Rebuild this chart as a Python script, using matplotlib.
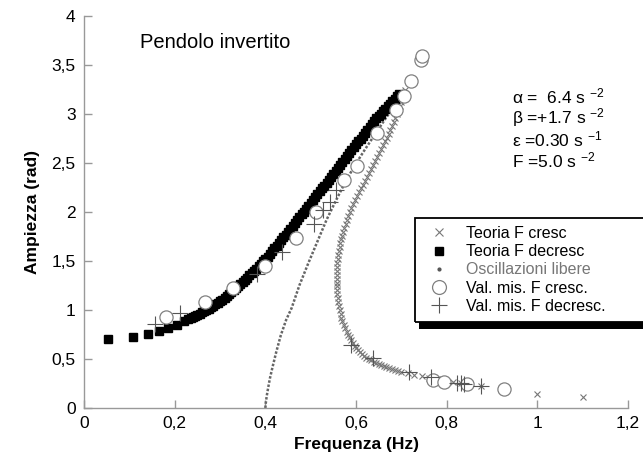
import numpy as np
import matplotlib
matplotlib.use("Agg")
import matplotlib.pyplot as plt
from matplotlib.lines import Line2D
from matplotlib.patches import Rectangle
from matplotlib.ticker import FuncFormatter, MultipleLocator

plt.rcParams['font.family'] = ['Liberation Sans', 'DejaVu Sans']
plt.rcParams['mathtext.fontset'] = 'custom'
plt.rcParams['mathtext.rm'] = 'Liberation Sans'
plt.rcParams['mathtext.it'] = 'Liberation Sans'

# Teoria F decresc (upper branch, black squares)
dec_f = [0.053, 0.108, 0.141, 0.166, 0.185, 0.205, 0.221,
         0.230, 0.235, 0.240, 0.245, 0.250, 0.255, 0.260, 0.265, 0.270, 0.275,
         0.280, 0.285, 0.290, 0.295, 0.300, 0.305, 0.310, 0.315, 0.320, 0.325,
         0.330, 0.335, 0.340, 0.345, 0.350, 0.355, 0.360, 0.365, 0.370, 0.375,
         0.380, 0.385, 0.390, 0.395, 0.400, 0.405, 0.410, 0.415, 0.420, 0.425,
         0.430, 0.435, 0.440, 0.445, 0.450, 0.455, 0.460, 0.465, 0.470, 0.475,
         0.480, 0.485, 0.490, 0.495, 0.500, 0.505, 0.510, 0.515, 0.520, 0.525,
         0.530, 0.535, 0.540, 0.545, 0.550, 0.555, 0.560, 0.565, 0.570, 0.575,
         0.580, 0.585, 0.590, 0.595, 0.600, 0.605, 0.610, 0.615, 0.620, 0.625,
         0.630, 0.635, 0.640, 0.645, 0.650, 0.655, 0.660, 0.665, 0.670, 0.675,
         0.680, 0.685, 0.690, 0.695]
dec_a = [0.70, 0.72, 0.76, 0.79, 0.82, 0.85, 0.89,
         0.91, 0.92, 0.93, 0.94, 0.95, 0.962, 0.975, 0.987, 1.00, 1.015,
         1.03, 1.045, 1.06, 1.075, 1.09, 1.105, 1.12, 1.14, 1.16, 1.18,
         1.20, 1.225, 1.25, 1.27, 1.29, 1.31, 1.33, 1.355, 1.38, 1.40,
         1.42, 1.445, 1.47, 1.495, 1.52, 1.545, 1.57, 1.60, 1.63, 1.655,
         1.68, 1.71, 1.74, 1.77, 1.80, 1.83, 1.86, 1.89, 1.92, 1.95,
         1.98, 2.005, 2.03, 2.06, 2.09, 2.12, 2.15, 2.18, 2.21, 2.24,
         2.27, 2.30, 2.33, 2.36, 2.39, 2.42, 2.45, 2.48, 2.51, 2.54,
         2.57, 2.60, 2.63, 2.66, 2.69, 2.72, 2.75, 2.78, 2.81, 2.84,
         2.87, 2.90, 2.93, 2.955, 2.98, 3.005, 3.03, 3.055, 3.08, 3.105,
         3.13, 3.155, 3.18, 3.20]

# Teoria F cresc (C-shaped curve, gray crosses)
cre_f = [0.708, 0.705, 0.702, 0.699, 0.696, 0.693, 0.690, 0.687, 0.683, 0.680,
         0.676, 0.672, 0.668, 0.664, 0.660, 0.656, 0.651, 0.647, 0.642, 0.638,
         0.633, 0.629, 0.624, 0.620, 0.615, 0.611, 0.606, 0.602, 0.598, 0.594,
         0.590, 0.586, 0.583, 0.580, 0.577, 0.574, 0.572, 0.569, 0.567, 0.565,
         0.564, 0.562, 0.561, 0.560, 0.559, 0.558, 0.558, 0.558, 0.558, 0.558,
         0.558, 0.558, 0.559, 0.560, 0.561, 0.562, 0.564, 0.566, 0.568, 0.570,
         0.573, 0.576, 0.580, 0.583, 0.587, 0.590, 0.594, 0.597, 0.601, 0.605,
         0.609, 0.613, 0.618, 0.623, 0.628, 0.633, 0.639, 0.644, 0.650, 0.655,
         0.661, 0.667, 0.673, 0.680, 0.686, 0.693, 0.700,
         0.714, 0.728, 0.745, 0.762, 0.778, 0.795, 0.813, 0.832, 0.852, 0.875,
         0.92, 1.00, 1.10]
cre_a = [3.24, 3.20, 3.16, 3.12, 3.08, 3.04, 3.00, 2.96, 2.92, 2.88,
         2.84, 2.80, 2.76, 2.72, 2.68, 2.64, 2.60, 2.56, 2.52, 2.48,
         2.44, 2.40, 2.36, 2.32, 2.28, 2.24, 2.20, 2.16, 2.12, 2.08,
         2.04, 2.00, 1.96, 1.92, 1.88, 1.84, 1.80, 1.76, 1.72, 1.68,
         1.64, 1.60, 1.56, 1.52, 1.48, 1.44, 1.40, 1.36, 1.32, 1.28,
         1.24, 1.20, 1.16, 1.12, 1.08, 1.04, 1.00, 0.96, 0.92, 0.885,
         0.85, 0.815, 0.78, 0.75, 0.72, 0.69, 0.66, 0.635, 0.61, 0.59,
         0.57, 0.55, 0.53, 0.515, 0.50, 0.485, 0.47, 0.46, 0.45, 0.44,
         0.43, 0.42, 0.41, 0.40, 0.39, 0.38, 0.37,
         0.355, 0.34, 0.325, 0.31, 0.30, 0.285, 0.27, 0.255, 0.24, 0.22,
         0.19, 0.14, 0.11]

# Oscillazioni libere (backbone, gray dots)
lib_f = [0.400, 0.401, 0.403, 0.406, 0.410, 0.416, 0.424, 0.434, 0.446, 0.458, 0.475,
         0.495, 0.515, 0.535, 0.556, 0.578, 0.598, 0.620, 0.643, 0.666, 0.688, 0.705]
lib_a = [0.00, 0.05, 0.12, 0.20, 0.30, 0.42, 0.57, 0.74, 0.90, 1.02, 1.25,
         1.48, 1.70, 1.92, 2.12, 2.32, 2.48, 2.64, 2.80, 2.96, 3.10, 3.20]

# Val. mis. F cresc. (circles)
mc_f = [0.181, 0.268, 0.328, 0.400, 0.467, 0.511, 0.574, 0.603, 0.647, 0.688, 0.705,
        0.721, 0.743, 0.746, 0.769, 0.795, 0.845, 0.926]
mc_a = [0.93, 1.08, 1.22, 1.45, 1.73, 2.00, 2.33, 2.47, 2.81, 3.04, 3.18,
        3.34, 3.55, 3.59, 0.29, 0.27, 0.245, 0.19]

# Val. mis. F decresc. (plus)
md_f = [0.157, 0.211, 0.382, 0.436, 0.507, 0.528, 0.542, 0.555, 0.588, 0.637, 0.718,
        0.765, 0.823, 0.832, 0.839, 0.876]
md_a = [0.86, 0.97, 1.37, 1.59, 1.88, 2.02, 2.10, 2.22, 0.64, 0.51, 0.37,
        0.32, 0.26, 0.26, 0.25, 0.22]

params = ["α =  6.4 s $^{\\mathregular{-2}}$", "β =+1.7 s $^{\\mathregular{-2}}$",
          "ε =0.30 s $^{\\mathregular{-1}}$", "F =5.0 s $^{\\mathregular{-2}}$"]

W, H = 643, 455
fig = plt.figure(figsize=(W / 100, H / 100), dpi=100)
ax = fig.add_axes([84 / W, 1 - 408 / H, (628 - 84) / W, (408 - 16) / H])

ax.plot(lib_f, lib_a, ls=(0, (1, 0.7)), lw=1.8, color='#666666', zorder=2)
ax.plot(cre_f, cre_a, 'x', ms=5, mew=0.8, color='#777777', zorder=3)
ax.plot(dec_f, dec_a, 's', ms=6.2, color='black', mec='black', zorder=4)
ax.plot(mc_f, mc_a, 'o', ms=9.5, mfc='white', mec='#808080', mew=0.9, zorder=5)
ax.plot(md_f, md_a, '+', ms=11, mew=0.8, color='#555555', zorder=6)

ax.set_xlim(0, 1.2)
ax.set_ylim(0, 4)
ax.xaxis.set_major_locator(MultipleLocator(0.2))
ax.yaxis.set_major_locator(MultipleLocator(0.5))
fmt = FuncFormatter(lambda v, p: f"{v:g}".replace('.', ','))
ax.xaxis.set_major_formatter(fmt)
ax.yaxis.set_major_formatter(fmt)
ax.tick_params(direction='in', length=6, width=1, color='#999999', labelsize=12.5, pad=6)
for s in ['top', 'right']:
    ax.spines[s].set_visible(False)
for s in ['left', 'bottom']:
    ax.spines[s].set_color('#999999')
    ax.spines[s].set_linewidth(1)

ax.set_xlabel("Frequenza (Hz)", fontsize=12.5, fontweight='bold', labelpad=4)
ax.set_ylabel("Ampiezza (rad)", fontsize=12.5, fontweight='bold', labelpad=8)

fig.text(140 / W, 1 - 42 / H, "Pendolo invertito", fontsize=14.5, va='center')
for i, t in enumerate(params):
    fig.text(512 / W, 1 - (96 + 21.5 * i) / H, t, fontsize=12.5, va='center')

handles = [
    Line2D([], [], ls='none', marker='x', ms=5.5, mew=0.8, color='#777777'),
    Line2D([], [], ls='none', marker='s', ms=6, color='black'),
    Line2D([], [], ls='none', marker='.', ms=4, color='#555555'),
    Line2D([], [], ls='none', marker='o', ms=10, mfc='white', mec='#808080', mew=0.9),
    Line2D([], [], ls='none', marker='+', ms=11, mew=0.8, color='#555555'),
]
labels = ["Teoria F cresc", "Teoria F decresc", "Oscillazioni libere",
          "Val. mis. F cresc.", "Val. mis. F decresc."]
leg = fig.legend(handles, labels, loc='upper left',
                 bbox_to_anchor=(415 / W, 1 - 218 / H),
                 fontsize=11.5, frameon=False, borderpad=0.5, handlelength=2,
                 handletextpad=0.7, labelspacing=0.2, borderaxespad=0)
leg.get_texts()[2].set_color('#777777')

# legend box running off the right edge, with a dark shadow underneath
fig.canvas.draw()
bb = leg.get_window_extent()
fig.patches.append(Rectangle((bb.x0 + 4, bb.y0 - 7), W, 7, transform=None,
                             facecolor='black', edgecolor='none', zorder=10))
fig.patches.append(Rectangle((bb.x0, bb.y0), W, bb.height, transform=None,
                             facecolor='none', edgecolor='black', lw=1.3, zorder=10))

fig.savefig("out.png", dpi=100)
